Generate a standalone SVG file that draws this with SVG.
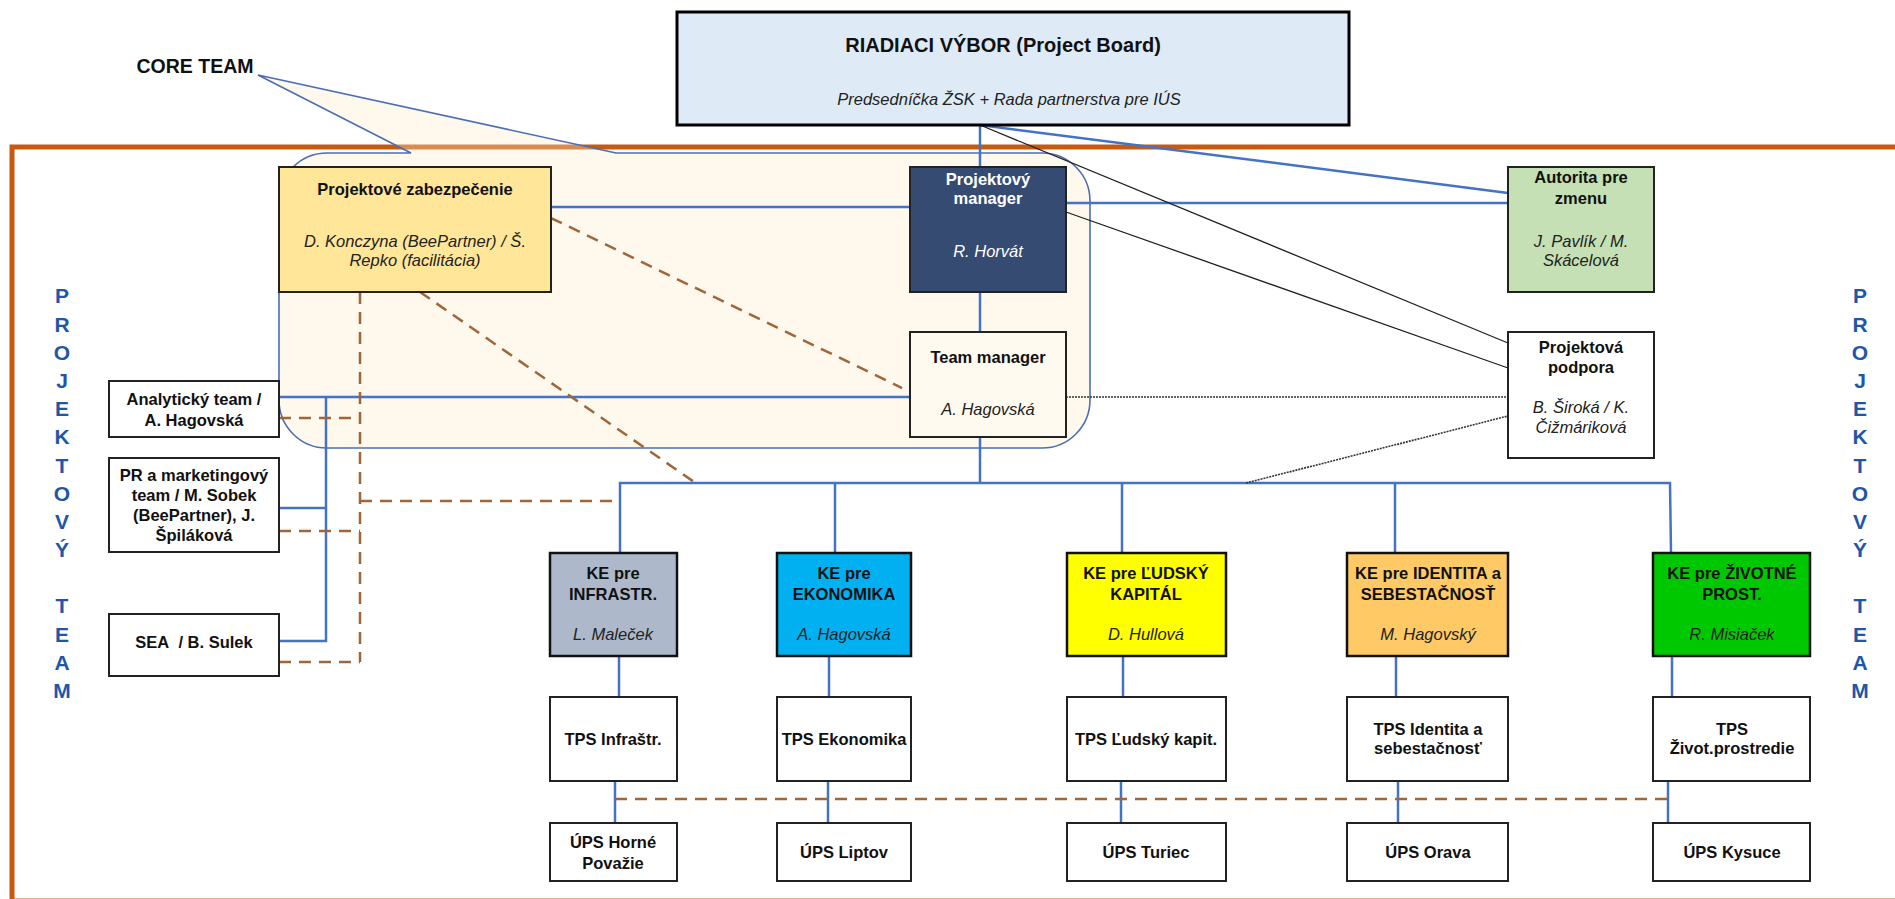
<svg xmlns="http://www.w3.org/2000/svg" width="1895" height="899" viewBox="0 0 1895 899">
<style>
text{font-family:"Liberation Sans",Arial,sans-serif;fill:#111;text-anchor:middle}
.b{font-weight:bold;font-size:16.5px}
.i{font-style:italic;font-size:16.5px;fill:#222}
.w{fill:#fff}
.box{stroke:#222;stroke-width:2}
.ke{stroke:#111;stroke-width:2.5}
.blue{stroke:#4472C4;stroke-width:2.5;fill:none}
.thin{stroke:#222;stroke-width:1.3;fill:none}
.dot{stroke:#333;stroke-width:1.6;fill:none;stroke-dasharray:2 1}
.brown{stroke:#A0663A;stroke-width:2.5;fill:none;stroke-dasharray:12 8}
.vl{font-weight:bold;font-size:21px;fill:#1F56A8}
</style>
<rect width="1895" height="899" fill="#fff"/>
<g id="frame">
<rect x="12" y="147" width="1900" height="754" fill="none" stroke="#C55A11" stroke-width="5"/>
</g>
<g id="core-team">
<path d="M258,75 L411,153 L327,153 A48,48 0 0 0 279,201 L279,400 A48,48 0 0 0 327,448 L1042,448 A48,48 0 0 0 1090,400 L1090,201 A48,48 0 0 0 1042,153 L616,153 Z" fill="#FBEBCB" fill-opacity="0.35" stroke="#4A6FB5" stroke-width="1.6"/>
<text x="195" y="73" style="font-weight:bold;font-size:19.5px">CORE TEAM</text>
</g>
<g id="side-labels">
<text class="vl" x="62" y="303">P</text><text class="vl" x="62" y="332">R</text><text class="vl" x="62" y="360">O</text><text class="vl" x="62" y="388">J</text><text class="vl" x="62" y="416">E</text><text class="vl" x="62" y="444">K</text><text class="vl" x="62" y="473">T</text><text class="vl" x="62" y="501">O</text><text class="vl" x="62" y="529">V</text><text class="vl" x="62" y="557">Ý</text><text class="vl" x="62" y="613">T</text><text class="vl" x="62" y="642">E</text><text class="vl" x="62" y="670">A</text><text class="vl" x="62" y="698">M</text>
<text class="vl" x="1860" y="303">P</text><text class="vl" x="1860" y="332">R</text><text class="vl" x="1860" y="360">O</text><text class="vl" x="1860" y="388">J</text><text class="vl" x="1860" y="416">E</text><text class="vl" x="1860" y="444">K</text><text class="vl" x="1860" y="473">T</text><text class="vl" x="1860" y="501">O</text><text class="vl" x="1860" y="529">V</text><text class="vl" x="1860" y="557">Ý</text><text class="vl" x="1860" y="613">T</text><text class="vl" x="1860" y="642">E</text><text class="vl" x="1860" y="670">A</text><text class="vl" x="1860" y="698">M</text>
</g>
<g id="connectors">
<line class="blue" x1="980" y1="125" x2="980" y2="167"/>
<line class="blue" x1="980" y1="125" x2="1508" y2="193"/>
<line class="blue" x1="551" y1="207" x2="910" y2="207"/>
<line class="blue" x1="1066" y1="203" x2="1508" y2="203"/>
<line class="blue" x1="980" y1="292" x2="980" y2="332"/>
<line class="blue" x1="279" y1="397" x2="910" y2="397"/>
<polyline class="blue" points="326,397 326,641 279,641"/>
<line class="blue" x1="279" y1="508" x2="326" y2="508"/>
<line class="blue" x1="980" y1="437" x2="980" y2="483"/>
<polyline class="blue" points="620,553 620,483 1670,483 1671,553"/>
<line class="blue" x1="835" y1="483" x2="835" y2="553"/>
<line class="blue" x1="1122" y1="483" x2="1122" y2="553"/>
<line class="blue" x1="1395" y1="483" x2="1395" y2="553"/>
<line class="blue" x1="619" y1="656" x2="619" y2="697"/>
<line class="blue" x1="829" y1="656" x2="829" y2="697"/>
<line class="blue" x1="1123" y1="656" x2="1123" y2="697"/>
<line class="blue" x1="1396" y1="656" x2="1396" y2="697"/>
<line class="blue" x1="1672" y1="656" x2="1672" y2="697"/>
<line class="blue" x1="615" y1="781" x2="615" y2="823"/>
<line class="blue" x1="828" y1="781" x2="828" y2="823"/>
<line class="blue" x1="1121" y1="781" x2="1121" y2="823"/>
<line class="blue" x1="1398" y1="781" x2="1398" y2="823"/>
<line class="blue" x1="1668" y1="781" x2="1668" y2="823"/>
<line class="thin" x1="980" y1="125" x2="1508" y2="343"/>
<line class="thin" x1="1066" y1="212" x2="1508" y2="368"/>
<line class="dot" x1="1066" y1="397" x2="1508" y2="397"/>
<line class="dot" x1="1246" y1="483" x2="1508" y2="416"/>
<line class="brown" x1="551" y1="218" x2="902" y2="388"/>
<line class="brown" x1="420" y1="292" x2="697" y2="484"/>
<line class="brown" x1="360" y1="292" x2="360" y2="662"/>
<line class="brown" x1="279" y1="418" x2="360" y2="418"/>
<line class="brown" x1="360" y1="501" x2="620" y2="501"/>
<line class="brown" x1="279" y1="531" x2="360" y2="531"/>
<line class="brown" x1="279" y1="662" x2="360" y2="662"/>
<line class="brown" x1="615" y1="799" x2="1668" y2="799"/>
</g>
<g id="riadiaci-vybor">
<rect x="677" y="12" width="672" height="113" fill="#DEEBF7" stroke="#000" stroke-width="3"/>
<text x="1003" y="52" style="font-weight:bold;font-size:20px">RIADIACI VÝBOR (Project Board)</text>
<text x="1009" y="105" class="i" style="font-size:16.5px">Predsedníčka ŽSK + Rada partnerstva pre IÚS</text>
</g>
<g id="projektove-zabezpecenie">
<rect class="box" x="279" y="167" width="272" height="125" fill="#FFE699"/>
<text class="b" x="415" y="195">Projektové zabezpečenie</text>
<text class="i" x="415" y="247">D. Konczyna (BeePartner) / Š.</text>
<text class="i" x="415" y="266">Repko (facilitácia)</text>
</g>
<g id="projektovy-manager">
<rect class="box" x="910" y="167" width="156" height="125" fill="#364B72"/>
<text class="b w" x="988" y="185">Projektový</text>
<text class="b w" x="988" y="204">manager</text>
<text class="i w" x="988" y="257">R. Horvát</text>
</g>
<g id="autorita-pre-zmenu">
<rect class="box" x="1508" y="167" width="146" height="125" fill="#C5E0B4"/>
<text class="b" x="1581" y="183">Autorita pre</text>
<text class="b" x="1581" y="204">zmenu</text>
<text class="i" x="1581" y="247">J. Pavlík / M.</text>
<text class="i" x="1581" y="266">Skácelová</text>
</g>
<g id="team-manager">
<rect class="box" x="910" y="332" width="156" height="105" fill="#FFFAF0"/>
<text class="b" x="988" y="363">Team manager</text>
<text class="i" x="988" y="415">A. Hagovská</text>
</g>
<g id="projektova-podpora">
<rect class="box" x="1508" y="332" width="146" height="126" fill="#fff"/>
<text class="b" x="1581" y="353">Projektová</text>
<text class="b" x="1581" y="373">podpora</text>
<text class="i" x="1581" y="413">B. Široká / K.</text>
<text class="i" x="1581" y="433">Čižmáriková</text>
</g>
<g id="analyticky-team">
<rect class="box" x="109" y="381" width="170" height="56" fill="#fff"/>
<text class="b" x="194" y="405">Analytický team /</text>
<text class="b" x="194" y="426">A. Hagovská</text>
</g>
<g id="pr-team">
<rect class="box" x="109" y="458" width="170" height="94" fill="#fff"/>
<text class="b" x="194" y="481">PR a marketingový</text>
<text class="b" x="194" y="501">team / M. Sobek</text>
<text class="b" x="194" y="521">(BeePartner), J.</text>
<text class="b" x="194" y="541">Špiláková</text>
</g>
<g id="sea">
<rect class="box" x="109" y="614" width="170" height="62" fill="#fff"/>
<text class="b" x="194" y="648">SEA&#160; / B. Sulek</text>
</g>
<g id="ke-infrastr">
<rect class="ke" x="550" y="553" width="127" height="103" fill="#ADB9CA"/>
<text class="b" x="613" y="579">KE pre</text>
<text class="b" x="613" y="600">INFRASTR.</text>
<text class="i" x="613" y="640">L. Maleček</text>
</g>
<g id="ke-ekonomika">
<rect class="ke" x="777" y="553" width="134" height="103" fill="#00B0F0"/>
<text class="b" x="844" y="579">KE pre</text>
<text class="b" x="844" y="600">EKONOMIKA</text>
<text class="i" x="844" y="640">A. Hagovská</text>
</g>
<g id="ke-ludsky">
<rect class="ke" x="1067" y="553" width="159" height="103" fill="#FFFF00"/>
<text class="b" x="1146" y="579">KE pre ĽUDSKÝ</text>
<text class="b" x="1146" y="600">KAPITÁL</text>
<text class="i" x="1146" y="640">D. Hullová</text>
</g>
<g id="ke-identita">
<rect class="ke" x="1347" y="553" width="161" height="103" fill="#FFCA66"/>
<text class="b" x="1428" y="579">KE pre IDENTITA a</text>
<text class="b" x="1428" y="600">SEBESTAČNOSŤ</text>
<text class="i" x="1428" y="640">M. Hagovský</text>
</g>
<g id="ke-zivotne">
<rect class="ke" x="1653" y="553" width="157" height="103" fill="#00C800"/>
<text class="b" x="1732" y="579">KE pre ŽIVOTNÉ</text>
<text class="b" x="1732" y="600">PROST.</text>
<text class="i" x="1732" y="640">R. Misiaček</text>
</g>
<g id="tps-infrastr">
<rect class="box" x="550" y="697" width="127" height="84" fill="#fff"/>
<text class="b" x="613" y="745">TPS Infraštr.</text>
</g>
<g id="tps-ekonomika">
<rect class="box" x="777" y="697" width="134" height="84" fill="#fff"/>
<text class="b" x="844" y="745">TPS Ekonomika</text>
</g>
<g id="tps-ludsky">
<rect class="box" x="1067" y="697" width="159" height="84" fill="#fff"/>
<text class="b" x="1146" y="745">TPS Ľudský kapit.</text>
</g>
<g id="tps-identita">
<rect class="box" x="1347" y="697" width="161" height="84" fill="#fff"/>
<text class="b" x="1428" y="735">TPS Identita a</text>
<text class="b" x="1428" y="754">sebestačnosť</text>
</g>
<g id="tps-zivot">
<rect class="box" x="1653" y="697" width="157" height="84" fill="#fff"/>
<text class="b" x="1732" y="735">TPS</text>
<text class="b" x="1732" y="754">Život.prostredie</text>
</g>
<g id="ups-horne-povazie">
<rect class="box" x="550" y="823" width="127" height="58" fill="#fff"/>
<text class="b" x="613" y="848">ÚPS Horné</text>
<text class="b" x="613" y="869">Považie</text>
</g>
<g id="ups-liptov">
<rect class="box" x="777" y="823" width="134" height="58" fill="#fff"/>
<text class="b" x="844" y="858">ÚPS Liptov</text>
</g>
<g id="ups-turiec">
<rect class="box" x="1067" y="823" width="159" height="58" fill="#fff"/>
<text class="b" x="1146" y="858">ÚPS Turiec</text>
</g>
<g id="ups-orava">
<rect class="box" x="1347" y="823" width="161" height="58" fill="#fff"/>
<text class="b" x="1428" y="858">ÚPS Orava</text>
</g>
<g id="ups-kysuce">
<rect class="box" x="1653" y="823" width="157" height="58" fill="#fff"/>
<text class="b" x="1732" y="858">ÚPS Kysuce</text>
</g>
</svg>
